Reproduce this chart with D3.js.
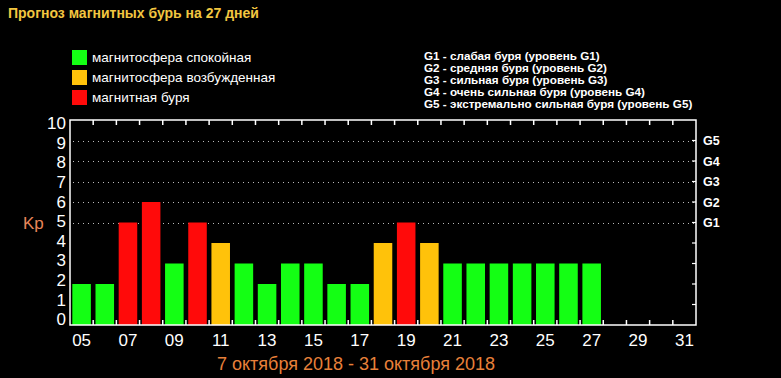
<!DOCTYPE html>
<html><head><meta charset="utf-8">
<script src="https://cdn.jsdelivr.net/npm/d3@7"></script>
<style>
html,body{margin:0;padding:0;background:#000;}
svg{display:block;}
</style></head>
<body>
<svg id="c" width="781" height="378"></svg>
<script>
const days = ["05","06","07","08","09","10","11","12","13","14","15","16","17","18","19","20","21","22","23","24","25","26","27","28","29","30","31"];
const kp =   [2,2,5,6,3,5,4,3,2,3,3,2,2,4,5,4,3,3,3,3,3,3,3,null,null,null,null];
const status = ["calm","calm","storm","storm","calm","storm","excited","calm","calm","calm","calm","calm","calm","excited","storm","excited","calm","calm","calm","calm","calm","calm","calm",null,null,null,null];
const statusColors = {calm:"#14ff14", excited:"#ffc20a", storm:"#ff0a0a"};
const legendItems = [["calm","магнитосфера спокойная"],["excited","магнитосфера возбужденная"],["storm","магнитная буря"]];
const gLegend = ["G1 - слабая буря (уровень G1)","G2 - средняя буря (уровень G2)","G3 - сильная буря (уровень G3)","G4 - очень сильная буря (уровень G4)","G5 - экстремально сильная буря (уровень G5)"];
const gLevels = [5,6,7,8,9];
const gLabels = ["G1","G2","G3","G4","G5"];
const yTicks = [0,1,2,3,4,5,6,7,8,9,10];
const xLabelDays = days.filter((d,i)=>i%2===0);
const title = "Прогноз магнитных бурь на 27 дней";
const period = "7 октября 2018 - 31 октября 2018";

const svg = d3.select("#c");
svg.append("rect").attr("width",781).attr("height",378).attr("fill","#000");

const L=70, R=696, T=120, B=325;
const x = d3.scaleBand().domain(days).range([L,R]).paddingInner(0.2).paddingOuter(0.1);
const y = d3.scaleLinear().domain([0,10]).range([B,T]);
const yLab = d3.scaleLinear().domain([0,10]).range([319,123]);

// title
svg.append("text").attr("x",8).attr("y",18).attr("fill","#f2c640")
  .attr("font-family","Liberation Sans, Arial, sans-serif").attr("font-weight","bold").attr("font-size",14)
  .text(title);

// legend
const lg = svg.append("g");
legendItems.forEach((it,i)=>{
  lg.append("rect").attr("x",72).attr("y",50+i*20).attr("width",15).attr("height",15).attr("fill",statusColors[it[0]]);
  lg.append("text").attr("x",92).attr("y",62+i*20).attr("fill","#fff")
    .attr("font-family","Liberation Sans, Arial, sans-serif").attr("font-size",13.5).text(it[1]);
});
gLegend.forEach((t,i)=>{
  svg.append("text").attr("x",424).attr("y",60+i*12).attr("fill","#fff")
    .attr("font-family","Liberation Sans, Arial, sans-serif").attr("font-weight","bold").attr("font-size",11.7).text(t);
});

// gridlines
svg.append("g").selectAll("line").data(gLevels).join("line")
  .attr("x1",L+3).attr("x2",R).attr("y1",d=>Math.round(y(d))+0.5).attr("y2",d=>Math.round(y(d))+0.5)
  .attr("stroke","#bbb").attr("stroke-width",1).attr("stroke-dasharray","1,4");

// bars
svg.append("g").selectAll("rect").data(days.map((d,i)=>({d,v:kp[i],s:status[i]})).filter(o=>o.v!=null)).join("rect")
  .attr("x",o=>x(o.d)).attr("width",x.bandwidth())
  .attr("y",o=>y(o.v)).attr("height",o=>y(0)-y(o.v))
  .attr("fill",o=>statusColors[o.s]);

// frame
svg.append("rect").attr("x",L).attr("y",T).attr("width",R-L).attr("height",B-T)
  .attr("fill","none").attr("stroke","#fff").attr("stroke-width",1.5);

// ticks at band boundaries
const step = x.step();
const bounds = d3.range(1,days.length).map(k=>L+k*step);
svg.append("g").selectAll("line").data(bounds).join("line")
  .attr("x1",d=>d).attr("x2",d=>d).attr("y1",B).attr("y2",B-5).attr("stroke","#fff").attr("stroke-width",1.5);
svg.append("g").selectAll("line").data(bounds).join("line")
  .attr("x1",d=>d).attr("x2",d=>d).attr("y1",T).attr("y2",T+5).attr("stroke","#fff").attr("stroke-width",1.5);
// right ticks
svg.append("g").selectAll("line").data(d3.range(1,10)).join("line")
  .attr("x1",R).attr("x2",R-4).attr("y1",d=>y(d)).attr("y2",d=>y(d)).attr("stroke","#fff").attr("stroke-width",1.2);

// y labels
svg.append("g").selectAll("text").data(yTicks).join("text")
  .attr("x",66).attr("y",d=>yLab(d)).attr("dy","0.36em").attr("text-anchor","end")
  .attr("fill","#fff").attr("font-family","Liberation Sans, Arial, sans-serif").attr("font-size",17).text(d=>d);

// Kp
svg.append("text").attr("x",23).attr("y",y(5)).attr("dy","0.36em").attr("fill","#e8865a")
  .attr("font-family","Liberation Sans, Arial, sans-serif").attr("font-size",17).text("Kp");

// G labels
svg.append("g").selectAll("text").data(gLevels).join("text")
  .attr("x",703).attr("y",(d)=>y(d)).attr("dy","0.36em").attr("fill","#fff")
  .attr("font-family","Liberation Sans, Arial, sans-serif").attr("font-weight","bold").attr("font-size",12.5)
  .text((d,i)=>gLabels[i]);

// x labels
svg.append("g").selectAll("text").data(xLabelDays).join("text")
  .attr("x",d=>x(d)+x.bandwidth()/2).attr("y",346).attr("text-anchor","middle")
  .attr("fill","#fff").attr("font-family","Liberation Sans, Arial, sans-serif").attr("font-size",17).text(d=>d);

// period
svg.append("text").attr("x",356).attr("y",370).attr("text-anchor","middle").attr("fill","#e8803a")
  .attr("font-family","Liberation Sans, Arial, sans-serif").attr("font-size",18).text(period);
</script>
</body></html>
